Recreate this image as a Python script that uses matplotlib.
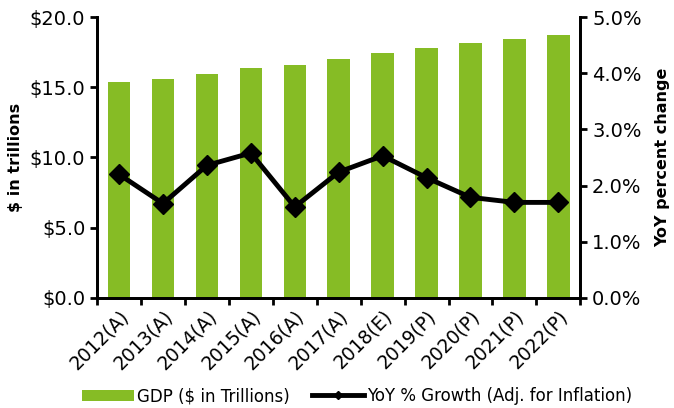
import numpy as np
import matplotlib
matplotlib.use("Agg")
import matplotlib.pyplot as plt

years = ["2012(A)", "2013(A)", "2014(A)", "2015(A)", "2016(A)", "2017(A)",
         "2018(E)", "2019(P)", "2020(P)", "2021(P)", "2022(P)"]
gdp = [15.35, 15.6, 15.95, 16.35, 16.6, 17.0, 17.45, 17.8, 18.15, 18.45, 18.75]
growth = [2.2, 1.68, 2.36, 2.58, 1.62, 2.24, 2.53, 2.14, 1.79, 1.7, 1.7]

plt.rcParams['font.family'] = ['Verdana', 'DejaVu Sans']

fig = plt.figure(figsize=(6.74, 4.08), dpi=100)
ax = fig.add_axes([0.144, 0.270, 0.717, 0.688])
x = np.arange(len(years))
bars = ax.bar(x, gdp, width=0.51, color="#86BC25", label="GDP ($ in Trillions)", zorder=2)
ax.set_xlim(-0.5, len(years) - 0.5)
ax.set_ylim(0, 20)
ax.set_yticks(np.arange(0, 20.1, 5))
ax.set_yticklabels(["$%.1f" % v for v in np.arange(0, 20.1, 5)], fontsize=14)
ax.set_ylabel("$ in trillions", fontsize=11.5, fontweight="bold", labelpad=5)

ax.set_xticks(x)
ax.set_xticklabels(years, rotation=45, ha="right", rotation_mode="anchor", fontsize=13.5)
ax.tick_params(axis="x", length=0, pad=6)
ax.set_xticks(np.arange(-0.5, len(years), 1), minor=True)
ax.tick_params(axis="x", which="minor", length=5, width=2, direction="out")
ax.tick_params(axis="y", length=5, width=2, direction="out")

ax2 = ax.twinx()
line, = ax2.plot(x, growth, color="black", lw=3.5, marker="D", markersize=10,
                 label="YoY % Growth (Adj. for Inflation)", zorder=3)
ax2.set_ylim(0, 5)
ax2.set_yticks(np.arange(0, 5.1, 1))
ax2.set_yticklabels(["%.1f%%" % v for v in np.arange(0, 5.1, 1)], fontsize=14)
ax2.set_ylabel("YoY percent change", fontsize=11.5, fontweight="bold", labelpad=10)
ax2.tick_params(axis="y", length=5, width=2, direction="out")

for a in (ax, ax2):
    a.spines["top"].set_visible(False)
    for s in ("left", "right", "bottom"):
        a.spines[s].set_linewidth(2)

leg_line = plt.Line2D([], [], color="black", lw=3.5, marker="D", markersize=4)
fig.legend([bars, leg_line], ["GDP ($ in Trillions)", "YoY % Growth (Adj. for Inflation)"],
           loc="lower center", bbox_to_anchor=(0.53, -0.03), ncol=2, frameon=False,
           fontsize=12, handlelength=3.1, columnspacing=1.3, handletextpad=0.2)

fig.savefig("out.png", dpi=100)
